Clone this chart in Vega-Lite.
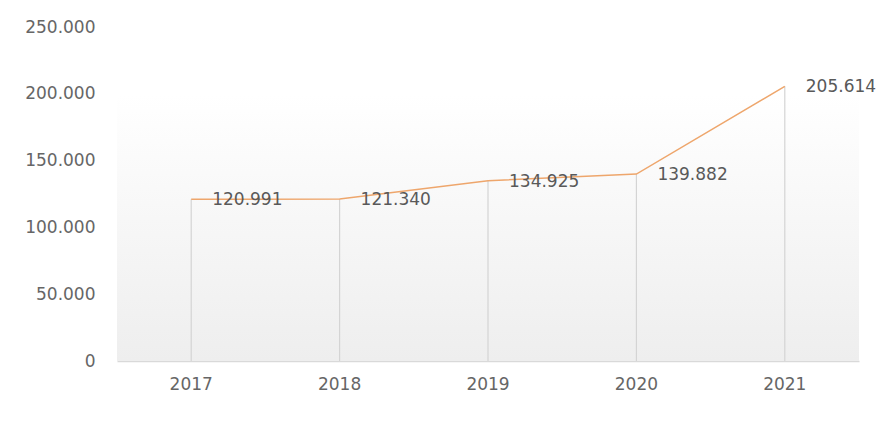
{
  "$schema": "https://vega.github.io/schema/vega-lite/v6.json",
  "width": 742,
  "height": 334,
  "autosize": {"type": "none"},
  "padding": {"left": 117, "top": 27, "right": 29, "bottom": 61},
  "background": "#ffffff",
  "config": {
    "locale": {"number": {"decimal": ",", "thousands": ".", "grouping": [3], "currency": ["Rp", ""]}},
    "view": {"stroke": null},
    "font": "DejaVu Sans"
  },
  "data": {"values": [
    {"year": "2017", "value": 120991},
    {"year": "2018", "value": 121340},
    {"year": "2019", "value": 134925},
    {"year": "2020", "value": 139882},
    {"year": "2021", "value": 205614}
  ]},
  "encoding": {
    "x": {"field": "year", "type": "ordinal", "scale": {"paddingInner": 0, "paddingOuter": 0},
      "axis": {"title": null, "labelAngle": 0, "ticks": false, "domain": true, "domainColor": "#d9d9d9", "domainWidth": 1.5, "labelPadding": 15, "labelFontSize": 17, "labelColor": "#666666", "labelFont": "DejaVu Sans"}},
    "y": {"field": "value", "type": "quantitative", "scale": {"domain": [0, 250000], "nice": false},
      "axis": {"title": null, "values": [0, 50000, 100000, 150000, 200000, 250000], "format": ",.0f", "domain": false, "ticks": false, "grid": false, "labelPadding": 22, "labelFontSize": 17, "labelColor": "#666666", "labelFont": "DejaVu Sans"}}
  },
  "layer": [
    {
      "mark": {"type": "rect", "fill": {"gradient": "linear", "x1": 0, "y1": 0, "x2": 0, "y2": 1, "stops": [{"offset": 0, "color": "#ffffff"}, {"offset": 1, "color": "#eeeeee"}]}},
      "encoding": {"x": null, "y": {"datum": 200000, "type": "quantitative"}, "y2": {"datum": 0}}
    },
    {
      "mark": {"type": "rule", "color": "#d4d4d4", "strokeWidth": 1.2},
      "encoding": {"y2": {"datum": 0}}
    },
    {
      "mark": {"type": "line", "color": "#eea66c", "strokeWidth": 1.5},
      "encoding": {}
    },
    {
      "mark": {"type": "text", "align": "left", "baseline": "middle", "dx": 21, "dy": 1, "fontSize": 17, "color": "#595959", "font": "DejaVu Sans"},
      "encoding": {"text": {"field": "value", "type": "quantitative", "format": ",.0f"}}
    }
  ]
}
